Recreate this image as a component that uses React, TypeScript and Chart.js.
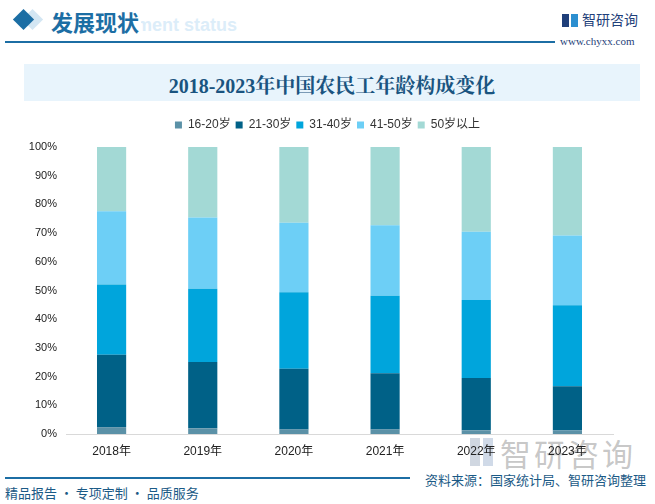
import React, { useEffect, useRef } from "react";
import { Chart, registerables } from "chart.js";

Chart.register(...registerables);

const categories = ["2018年", "2019年", "2020年", "2021年", "2022年", "2023年"];
const seriesNames = ["16-20岁", "21-30岁", "31-40岁", "41-50岁", "50岁以上"];
const age16to20 = [2.4, 2.0, 1.6, 1.6, 1.3, 1.2];
const age21to30 = [25.2, 23.1, 21.1, 19.6, 18.2, 15.4];
const age31to40 = [24.5, 25.5, 26.7, 27.0, 27.2, 28.3];
const age41to50 = [25.5, 24.8, 24.2, 24.5, 23.8, 24.3];
const age50plus = [22.4, 24.6, 26.4, 27.3, 29.5, 30.8];
const yTicks = [0, 10, 20, 30, 40, 50, 60, 70, 80, 90, 100];

const seriesColors = ["#5b91a7", "#006187", "#00a5dc", "#6dcff6", "#a3d9d5"];

const CJK = '"Noto Sans CJK SC", "Noto Sans", sans-serif';
const AXISFONT = '"Liberation Sans", Arial, "Noto Sans CJK SC", sans-serif';

const legendSpacer = {
  id: "legendSpacer",
  beforeInit(chart: any) {
    const legend = chart.legend;
    if (!legend) return;
    const origFit = legend.fit;
    legend.fit = function () {
      origFit.call(this);
      this.height += 6;
    };
  },
};

export default function App() {
  const canvasRef = useRef<HTMLCanvasElement | null>(null);

  useEffect(() => {
    if (!canvasRef.current) return;
    const values = [age16to20, age21to30, age31to40, age41to50, age50plus];
    const chart = new Chart(canvasRef.current, {
      type: "bar",
      data: {
        labels: categories,
        datasets: values.map((v, i) => ({
          label: seriesNames[i],
          data: v,
          backgroundColor: seriesColors[i],
          borderWidth: 0,
          categoryPercentage: 0.8,
          barPercentage: 0.4,
          stack: "s",
        })),
      },
      plugins: [legendSpacer],
      options: {
        animation: false,
        responsive: true,
        maintainAspectRatio: false,
        layout: { padding: { left: 0, right: 0, top: 10, bottom: 2 } },
        plugins: {
          tooltip: { enabled: false },
          legend: {
            position: "top",
            labels: {
              boxWidth: 7,
              boxHeight: 7,
              padding: 5,
              color: "#333333",
              font: { size: 12, family: AXISFONT },
            },
          },
        },
        scales: {
          x: {
            stacked: true,
            grid: { display: false, drawTicks: false },
            border: { display: true, color: "#d9d9d9", width: 1 },
            ticks: {
              color: "#222222",
              padding: 10,
              font: { size: 12, family: AXISFONT },
            },
            afterFit: (s: any) => {
              s.height = 30;
            },
          },
          y: {
            stacked: true,
            min: 0,
            max: 100,
            afterBuildTicks: (s: any) => {
              s.ticks = yTicks.map((v) => ({ value: v }));
            },
            grid: { display: false, drawTicks: false },
            border: { display: false },
            ticks: {
              color: "#222222",
              padding: 9,
              font: { size: 11, family: AXISFONT },
              callback: (v: any) => v + "%",
            },
            afterFit: (s: any) => {
              s.width = 66;
            },
          },
          y2: {
            position: "right",
            display: true,
            grid: { display: false, drawTicks: false },
            border: { display: false },
            ticks: { display: false },
            afterFit: (s: any) => {
              s.width = 42;
            },
          },
        },
      },
    });
    return () => chart.destroy();
  }, []);

  const abs = (o: React.CSSProperties): React.CSSProperties => ({ position: "absolute", ...o });

  return (
    <div style={{ position: "absolute", left: 0, top: 0, width: 655, height: 504, background: "#ffffff", overflow: "hidden" }}>
      {/* header */}
      <div style={abs({ left: 66, top: 15, fontFamily: '"Liberation Sans", Arial, sans-serif', fontWeight: 700, fontSize: 18, color: "#dcedf9", whiteSpace: "nowrap" })}>Development status</div>
      <div style={abs({ left: 25, top: 12, width: 15, height: 15, background: "#d3e6f3", transform: "rotate(45deg)" })} />
      <div style={abs({ left: 16, top: 12, width: 15, height: 15, background: "#1c6ea4", transform: "rotate(45deg)" })} />
      <div style={abs({ left: 49, top: 6, paddingLeft: 2, paddingRight: 2, background: "#ffffff", fontFamily: CJK, fontWeight: 700, fontSize: 22, lineHeight: "30px", color: "#1c6ea4", whiteSpace: "nowrap" })}>发展现状</div>
      <div style={abs({ left: 5, top: 41, width: 550, height: 2, background: "#1c6ea4" })} />
      <div style={abs({ left: 562, top: 14, width: 7, height: 13, background: "#1f3f7a" })} />
      <div style={abs({ left: 571, top: 14, width: 7, height: 13, background: "#2c8fd0" })} />
      <div style={abs({ left: 582, top: 9, fontFamily: CJK, fontSize: 14, color: "#1f3f7a", whiteSpace: "nowrap" })}>智研咨询</div>
      <div style={abs({ left: 560, top: 35, fontFamily: '"Liberation Serif", "Times New Roman", serif', fontSize: 11, color: "#1f3f7a", whiteSpace: "nowrap" })}>www.chyxx.com</div>

      {/* title band */}
      <div style={abs({ left: 24, top: 64, width: 616, height: 37, background: "#e8f4fc" })} />
      <div style={abs({ left: 24, top: 70, width: 616, textAlign: "center", fontFamily: '"Liberation Serif", "Noto Serif CJK SC", "Noto Sans CJK SC", serif', fontWeight: 700, fontSize: 20, color: "#1a5480", whiteSpace: "nowrap" })}>2018-2023年中国农民工年龄构成变化</div>

      {/* watermark */}
      <div style={abs({ left: 470, top: 438, width: 10, height: 28, background: "rgba(120,140,170,0.35)" })} />
      <div style={abs({ left: 483, top: 438, width: 10, height: 28, background: "rgba(120,150,190,0.35)" })} />
      <div style={abs({ left: 500, top: 430, fontFamily: CJK, fontSize: 31, color: "rgba(130,130,130,0.45)", whiteSpace: "nowrap", letterSpacing: 3 })}>智研咨询</div>

      {/* chart */}
      <div style={abs({ left: 0, top: 104, width: 655, height: 362 })}>
        <canvas ref={canvasRef} />
      </div>

      {/* footer */}
      <div style={abs({ left: 5, top: 477, width: 405, height: 2, background: "#1c6ea4" })} />
      <div style={abs({ left: 425, top: 470, fontFamily: CJK, fontSize: 13, color: "#1b5a86", whiteSpace: "nowrap" })}>资料来源：国家统计局、智研咨询整理</div>
      <div style={abs({ left: 5, top: 483, fontFamily: CJK, fontSize: 13, color: "#1b5a86", whiteSpace: "nowrap" })}>精品报告 · 专项定制 · 品质服务</div>
    </div>
  );
}
